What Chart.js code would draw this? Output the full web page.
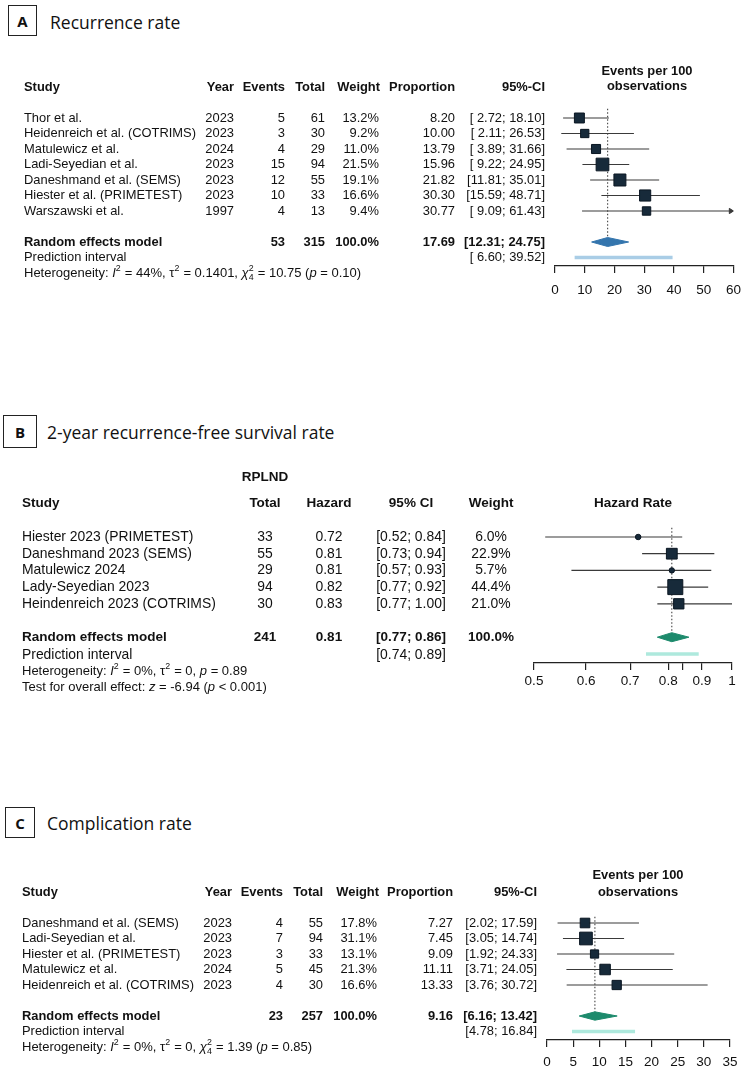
<!DOCTYPE html>
<html>
<head>
<meta charset="utf-8">
<script src="https://cdn.jsdelivr.net/npm/chart.js@4.4.1/dist/chart.umd.min.js"></script>
<style>
  body { margin: 0; background: #fff; }
  #page { position: relative; width: 750px; height: 1069px; overflow: hidden; background: #fff; }
  canvas { position: absolute; left: 0; }
  .tag { position: absolute; box-sizing: border-box; border: 1.3px solid #222; font: bold 15px 'Open Sans', sans-serif; color: #111;
         display: flex; align-items: center; justify-content: center; }
  .title { position: absolute; font: 17.5px 'Open Sans', sans-serif; color: #111; white-space: nowrap; line-height: 20px; }
</style>
</head>
<body>
<div id="page">
  <div class="tag" style="left:8px;top:5px;width:29px;height:31px;">A</div>
  <div class="title" style="left:50px;top:12px;">Recurrence rate</div>
  <div class="tag" style="left:3px;top:415px;width:34px;height:33px;">B</div>
  <div class="title" style="left:47px;top:422px;">2-year recurrence-free survival rate</div>
  <div class="tag" style="left:5px;top:807px;width:30px;height:31px;">C</div>
  <div class="title" style="left:47px;top:813px;">Complication rate</div>
  <canvas id="chart-a" width="750" height="305" style="top:0px"></canvas>
  <canvas id="chart-b" width="750" height="320" style="top:380px"></canvas>
  <canvas id="chart-c" width="750" height="289" style="top:780px"></canvas>
</div>
<script>
// ---- Panel A: recurrence rate
const aStudies = ['Thor et al.', 'Heidenreich et al. (COTRIMS)', 'Matulewicz et al.', 'Ladi-Seyedian et al.', 'Daneshmand et al. (SEMS)', 'Hiester et al. (PRIMETEST)', 'Warszawski et al.'];
const aYears = [2023, 2023, 2024, 2023, 2023, 2023, 1997];
const aEvents = [5, 3, 4, 15, 12, 10, 4];
const aTotals = [61, 30, 29, 94, 55, 33, 13];
const aWeights = [13.2, 9.2, 11.0, 21.5, 19.1, 16.6, 9.4];
const aProps = [8.20, 10.00, 13.79, 15.96, 21.82, 30.30, 30.77];
const aLower = [2.72, 2.11, 3.89, 9.22, 11.81, 15.59, 9.09];
const aUpper = [18.10, 26.53, 31.66, 24.95, 35.01, 48.71, 61.43];
const aSummary = [17.69, 12.31, 24.75];
const aPredInt = [6.60, 39.52];
const aTicks = [0, 10, 20, 30, 40, 50, 60];

// ---- Panel B: 2-year recurrence-free survival
const bStudies = ['Hiester 2023 (PRIMETEST)', 'Daneshmand 2023 (SEMS)', 'Matulewicz 2024', 'Lady-Seyedian 2023', 'Heindenreich 2023 (COTRIMS)'];
const bTotals = [33, 55, 29, 94, 30];
const bHazard = [0.72, 0.81, 0.81, 0.82, 0.83];
const bLower = [0.52, 0.73, 0.57, 0.77, 0.77];
const bUpper = [0.84, 0.94, 0.93, 0.92, 1.00];
const bWeights = [6.0, 22.9, 5.7, 44.4, 21.0];
const bSummary = [0.81, 0.77, 0.86];
const bPredInt = [0.74, 0.89];
const bTicks = [0.5, 0.6, 0.7, 0.8, 0.84, 0.9, 1];
const bTickLabels = ['0.5', '0.6', '0.7', '0.8', '', '0.9', '1'];

// ---- Panel C: complication rate
const cStudies = ['Daneshmand et al. (SEMS)', 'Ladi-Seyedian et al.', 'Hiester et al. (PRIMETEST)', 'Matulewicz et al.', 'Heidenreich et al. (COTRIMS)'];
const cYears = [2023, 2023, 2023, 2024, 2023];
const cEvents = [4, 7, 3, 5, 4];
const cTotals = [55, 94, 33, 45, 30];
const cWeights = [17.8, 31.1, 13.1, 21.3, 16.6];
const cProps = [7.27, 7.45, 9.09, 11.11, 13.33];
const cLower = [2.02, 3.05, 1.92, 3.71, 3.76];
const cUpper = [17.59, 14.74, 24.33, 24.05, 30.72];
const cSummary = [9.16, 6.16, 13.42];
const cPredInt = [4.78, 16.84];
const cTicks = [0, 5, 10, 15, 20, 25, 30, 35];

const FONT = '"Liberation Sans", Arial, sans-serif';
const ciColor = '#3a3a3a';
const boxFill = '#172a3a';
const boxEdge = '#0a1622';
const sum = a => a.reduce((s, v) => s + v, 0);

let fs = 12.9, fsBold = 12.9; // table font sizes, set per panel
function txt(ctx, s, x, y, align, bold) {
  ctx.font = bold ? 'bold ' + fsBold + 'px ' + FONT : fs + 'px ' + FONT;
  ctx.textAlign = align;
  ctx.fillText(s, x, y);
}

// text with italics / super- and subscripts, e.g. ['2|4','ss'] stacks 2 over 4
function runs(ctx, parts, x, y, size) {
  ctx.textAlign = 'left';
  parts.forEach(([t, k]) => {
    if (k === 'sup' || k === 'ss') {
      ctx.font = (size * 0.68) + 'px ' + FONT;
      const [hi, lo] = t.split('|');
      ctx.fillText(hi, x, y - size * 0.38);
      let w = ctx.measureText(hi).width;
      if (lo) { ctx.fillText(lo, x, y + size * 0.3); w = Math.max(w, ctx.measureText(lo).width); }
      x += w + 0.5;
    } else {
      ctx.font = (k === 'i' ? 'italic ' : '') + size + 'px ' + FONT;
      ctx.fillText(t, x, y);
      x += ctx.measureText(t).width;
    }
  });
}

function forestSets(p) {
  const n = p.est.length;
  const sets = [];
  const wMax = Math.max(...p.weights);
  for (let i = 0; i < n; i++) {
    sets.push({ data: [{ x: p.lo[i], y: i }, { x: Math.min(p.hi[i], p.xMax), y: i }],
      borderColor: ciColor, borderWidth: 1.2, pointRadius: 0, order: 5 });
    if (p.hi[i] > p.xMax) {
      // arrow for a CI running off the axis
      sets.push({ data: [{ x: p.xMax - p.arrow, y: i - 0.17 }, { x: p.xMax, y: i }, { x: p.xMax - p.arrow, y: i + 0.17 }, { x: p.xMax - p.arrow, y: i - 0.17 }],
        borderColor: ciColor, backgroundColor: ciColor, borderWidth: 1, pointRadius: 0, fill: 'shape', order: 5 });
    }
  }
  const r = p.sumRow;
  sets.push({ data: [{ x: p.sum[0], y: p.dotTop }, { x: p.sum[0], y: r - p.dh }],
    borderColor: '#444', borderWidth: 1.1, borderDash: [1.5, 2], pointRadius: 0, order: 3 });
  sets.push({ data: p.est.map((v, i) => ({ x: v, y: i })), showLine: false,
    pointStyle: ctx => (p.circleBelow && p.weights[ctx.dataIndex] < p.circleBelow) ? 'circle' : 'rect',
    pointRadius: ctx => {
      const side = p.maxSide * Math.sqrt(p.weights[ctx.dataIndex] / wMax);
      return (p.circleBelow && p.weights[ctx.dataIndex] < p.circleBelow) ? side / 2 : side / Math.SQRT2;
    },
    backgroundColor: boxFill, borderColor: boxEdge, borderWidth: 1, order: 0 });
  sets.push({ data: [{ x: p.sum[1], y: r }, { x: p.sum[0], y: r - p.dh }, { x: p.sum[2], y: r }, { x: p.sum[0], y: r + p.dh }, { x: p.sum[1], y: r }],
    borderColor: p.diamond, backgroundColor: p.diamond, borderWidth: 1, pointRadius: 0, fill: 'shape', order: 1 });
  sets.push({ data: [{ x: p.pi[0], y: r + 1 }, { x: p.pi[1], y: r + 1 }],
    borderColor: p.piColor, borderWidth: 3.5, borderCapStyle: 'butt', pointRadius: 0, order: 2 });
  return sets;
}

function forestChart(id, p, textPlugin) {
  const canvas = document.getElementById(id);
  const H = canvas.height;
  const top = p.rowY0 + p.rowMin * p.rowH - p.canvasTop;
  const bottom = p.rowY0 + p.rowAxis * p.rowH - p.canvasTop;
  return new Chart(canvas, {
    type: 'line',
    data: { datasets: forestSets(p) },
    options: {
      responsive: false, animation: false, events: [],
      layout: { padding: { left: p.left, right: 750 - p.right, top: top, bottom: H - bottom - p.axisH } },
      plugins: { legend: { display: false }, tooltip: { enabled: false } },
      scales: {
        x: {
          type: p.log ? 'logarithmic' : 'linear', min: p.xMin, max: p.xMax,
          afterBuildTicks: s => { s.ticks = p.ticks.map(v => ({ value: v })); },
          afterFit: s => { s.height = p.axisH; },
          border: { display: true, color: '#222', width: 1.2 },
          grid: { drawOnChartArea: false, drawTicks: true, tickLength: 7, color: '#222', lineWidth: 1.2 },
          ticks: { color: '#111', font: { family: FONT, size: 13.5 }, padding: p.tickPad, autoSkip: false, maxRotation: 0,
            callback: (v, i) => p.labels ? p.labels[i] : String(v) }
        },
        y: { type: 'linear', display: false, reverse: true, min: p.rowMin, max: p.rowAxis }
      }
    },
    plugins: [{ id: 'table-' + id, afterDraw: chart => {
      const ctx = chart.ctx;
      ctx.save();
      ctx.fillStyle = '#111';
      ctx.textBaseline = 'middle';
      fs = p.fontSize;
      fsBold = p.boldSize;
      textPlugin(ctx, v => chart.scales.y.getPixelForValue(v));
      ctx.restore();
    } }]
  });
}

const pad5 = v => v.toFixed(2).padStart(5, ' ');

// ---------- A
forestChart('chart-a', {
  est: aProps, lo: aLower, hi: aUpper, weights: aWeights, sum: aSummary, pi: aPredInt,
  xMin: 0, xMax: 60, ticks: aTicks, arrow: 1.4, sumRow: 8, dh: 0.29, dotTop: -0.6,
  maxSide: 12.7, diamond: '#3475ad', piColor: '#a9cde6', fontSize: 12.9, boldSize: 12.9,
  canvasTop: 0, rowY0: 118, rowH: 15.5, rowMin: -4, rowAxis: 9.55, axisH: 34, tickPad: 9,
  left: 555, right: 738
}, (ctx, y) => {
  txt(ctx, 'Events per 100', 647, y(-3), 'center', true);
  txt(ctx, 'observations', 647, y(-2.06), 'center', true);
  const hy = y(-2);
  txt(ctx, 'Study', 24, hy, 'left', true);
  txt(ctx, 'Year', 234, hy, 'right', true);
  txt(ctx, 'Events', 285, hy, 'right', true);
  txt(ctx, 'Total', 325, hy, 'right', true);
  txt(ctx, 'Weight', 380, hy, 'right', true);
  txt(ctx, 'Proportion', 455, hy, 'right', true);
  txt(ctx, '95%-CI', 545, hy, 'right', true);
  aStudies.forEach((s, i) => {
    const yy = y(i);
    txt(ctx, s, 24, yy, 'left');
    txt(ctx, String(aYears[i]), 234, yy, 'right');
    txt(ctx, String(aEvents[i]), 285, yy, 'right');
    txt(ctx, String(aTotals[i]), 325, yy, 'right');
    txt(ctx, aWeights[i].toFixed(1) + '%', 379, yy, 'right');
    txt(ctx, aProps[i].toFixed(2), 455, yy, 'right');
    txt(ctx, '[' + pad5(aLower[i]) + '; ' + pad5(aUpper[i]) + ']', 545, yy, 'right');
  });
  const sy = y(8);
  txt(ctx, 'Random effects model', 24, sy, 'left', true);
  txt(ctx, String(sum(aEvents)), 285, sy, 'right', true);
  txt(ctx, String(sum(aTotals)), 325, sy, 'right', true);
  txt(ctx, '100.0%', 379, sy, 'right', true);
  txt(ctx, aSummary[0].toFixed(2), 455, sy, 'right', true);
  txt(ctx, '[' + pad5(aSummary[1]) + '; ' + pad5(aSummary[2]) + ']', 545, sy, 'right', true);
  txt(ctx, 'Prediction interval', 24, y(9), 'left');
  txt(ctx, '[' + pad5(aPredInt[0]) + '; ' + pad5(aPredInt[1]) + ']', 545, y(9), 'right');
  runs(ctx, [['Heterogeneity: ', ''], ['I', 'i'], ['2', 'sup'], [' = 44%, τ', ''], ['2', 'sup'], [' = 0.1401, ', ''],
    ['χ', 'i'], ['2|4', 'ss'], [' = 10.75 (', ''], ['p', 'i'], [' = 0.10)', '']], 24, y(10.05), 13);
});

// ---------- B
forestChart('chart-b', {
  est: bHazard, lo: bLower, hi: bUpper, weights: bWeights, sum: bSummary, pi: bPredInt,
  xMin: 0.5, xMax: 1, log: true, ticks: bTicks, labels: bTickLabels, arrow: 0.01, sumRow: 6, dh: 0.27, dotTop: -0.55,
  maxSide: 15, circleBelow: 10, diamond: '#1d8a6c', piColor: '#aee9dd', fontSize: 13.9, boldSize: 13.5,
  canvasTop: 380, rowY0: 537, rowH: 16.7, rowMin: -5, rowAxis: 7.55, axisH: 30, tickPad: 3,
  left: 534, right: 732
}, (ctx, y) => {
  txt(ctx, 'RPLND', 265, y(-3.6), 'center', true);
  const hy = y(-2);
  txt(ctx, 'Study', 22, hy, 'left', true);
  txt(ctx, 'Total', 265, hy, 'center', true);
  txt(ctx, 'Hazard', 329, hy, 'center', true);
  txt(ctx, '95% CI', 411, hy, 'center', true);
  txt(ctx, 'Weight', 491, hy, 'center', true);
  txt(ctx, 'Hazard Rate', 633, hy, 'center', true);
  bStudies.forEach((s, i) => {
    const yy = y(i);
    txt(ctx, s, 22, yy, 'left');
    txt(ctx, String(bTotals[i]), 265, yy, 'center');
    txt(ctx, bHazard[i].toFixed(2), 329, yy, 'center');
    txt(ctx, '[' + bLower[i].toFixed(2) + '; ' + bUpper[i].toFixed(2) + ']', 411, yy, 'center');
    txt(ctx, bWeights[i].toFixed(1) + '%', 491, yy, 'center');
  });
  const sy = y(6);
  txt(ctx, 'Random effects model', 22, sy, 'left', true);
  txt(ctx, String(sum(bTotals)), 265, sy, 'center', true);
  txt(ctx, bSummary[0].toFixed(2), 329, sy, 'center', true);
  txt(ctx, '[' + bSummary[1].toFixed(2) + '; ' + bSummary[2].toFixed(2) + ']', 411, sy, 'center', true);
  txt(ctx, '100.0%', 491, sy, 'center', true);
  txt(ctx, 'Prediction interval', 22, y(7.05), 'left');
  txt(ctx, '[' + bPredInt[0].toFixed(2) + '; ' + bPredInt[1].toFixed(2) + ']', 411, y(7.05), 'center');
  runs(ctx, [['Heterogeneity: ', ''], ['I', 'i'], ['2', 'sup'], [' = 0%, τ', ''], ['2', 'sup'], [' = 0, ', ''],
    ['p', 'i'], [' = 0.89', '']], 22, y(8.05), 13);
  runs(ctx, [['Test for overall effect: ', ''], ['z', 'i'], [' = -6.94 (', ''], ['p', 'i'], [' < 0.001)', '']], 22, y(9), 13);
});

// ---------- C
forestChart('chart-c', {
  est: cProps, lo: cLower, hi: cUpper, weights: cWeights, sum: cSummary, pi: cPredInt,
  xMin: 0, xMax: 35, ticks: cTicks, arrow: 1, sumRow: 6, dh: 0.27, dotTop: -0.4,
  maxSide: 12.7, diamond: '#1d8a6c', piColor: '#aee9dd', fontSize: 12.9, boldSize: 12.9,
  canvasTop: 780, rowY0: 923, rowH: 15.5, rowMin: -4, rowAxis: 7.55, axisH: 28, tickPad: 7,
  left: 547, right: 730
}, (ctx, y) => {
  txt(ctx, 'Events per 100', 638, y(-3.05), 'center', true);
  txt(ctx, 'observations', 638, y(-2), 'center', true);
  const hy = y(-2);
  txt(ctx, 'Study', 22, hy, 'left', true);
  txt(ctx, 'Year', 232, hy, 'right', true);
  txt(ctx, 'Events', 283, hy, 'right', true);
  txt(ctx, 'Total', 323, hy, 'right', true);
  txt(ctx, 'Weight', 379, hy, 'right', true);
  txt(ctx, 'Proportion', 453, hy, 'right', true);
  txt(ctx, '95%-CI', 537, hy, 'right', true);
  cStudies.forEach((s, i) => {
    const yy = y(i);
    txt(ctx, s, 22, yy, 'left');
    txt(ctx, String(cYears[i]), 232, yy, 'right');
    txt(ctx, String(cEvents[i]), 283, yy, 'right');
    txt(ctx, String(cTotals[i]), 323, yy, 'right');
    txt(ctx, cWeights[i].toFixed(1) + '%', 377, yy, 'right');
    txt(ctx, cProps[i].toFixed(2), 453, yy, 'right');
    txt(ctx, '[' + cLower[i].toFixed(2) + '; ' + cUpper[i].toFixed(2) + ']', 537, yy, 'right');
  });
  const sy = y(6);
  txt(ctx, 'Random effects model', 22, sy, 'left', true);
  txt(ctx, String(sum(cEvents)), 283, sy, 'right', true);
  txt(ctx, String(sum(cTotals)), 323, sy, 'right', true);
  txt(ctx, '100.0%', 377, sy, 'right', true);
  txt(ctx, cSummary[0].toFixed(2), 453, sy, 'right', true);
  txt(ctx, '[' + cSummary[1].toFixed(2) + '; ' + cSummary[2].toFixed(2) + ']', 537, sy, 'right', true);
  txt(ctx, 'Prediction interval', 22, y(7), 'left');
  txt(ctx, '[' + cPredInt[0].toFixed(2) + '; ' + cPredInt[1].toFixed(2) + ']', 537, y(7), 'right');
  runs(ctx, [['Heterogeneity: ', ''], ['I', 'i'], ['2', 'sup'], [' = 0%, τ', ''], ['2', 'sup'], [' = 0, ', ''],
    ['χ', 'i'], ['2|4', 'ss'], [' = 1.39 (', ''], ['p', 'i'], [' = 0.85)', '']], 22, y(8.05), 13);
});
</script>
</body>
</html>
